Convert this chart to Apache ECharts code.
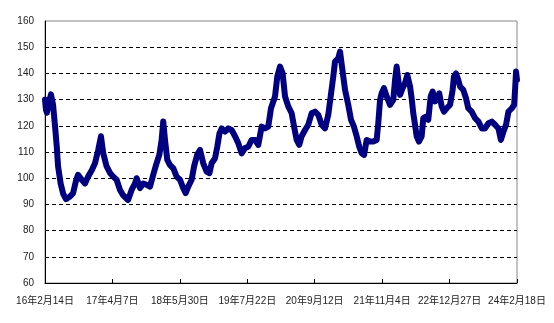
<!DOCTYPE html>
<html><head><meta charset="utf-8">
<script src="https://cdn.jsdelivr.net/npm/echarts@6/dist/echarts.min.js"></script>
<style>html,body{margin:0;padding:0;background:#fff}#c{width:554px;height:323px}</style>
</head><body><div id="c"></div>
<script>
const tickLabels = ['16年2月14日','17年4月7日','18年5月30日','19年7月22日','20年9月12日','21年11月4日','22年12月27日','24年2月18日'];
const tickStepDays = 418;
const days = [0,6,12,25,37,50,62,73,81,97,113,130,155,174,192,205,228,248,267,290,310,330,347,361,382,403,423,444,465,484,515,537,558,568,589,609,630,651,671,688,709,723,733,744,758,775,795,816,837,857,872,888,909,924,944,961,981,1002,1019,1033,1054,1068,1081,1095,1116,1136,1157,1178,1198,1219,1240,1260,1281,1302,1322,1343,1364,1384,1401,1426,1440,1457,1473,1488,1508,1529,1544,1560,1576,1591,1612,1632,1653,1674,1694,1715,1736,1756,1771,1787,1798,1818,1829,1841,1860,1880,1897,1915,1932,1948,1963,1978,1994,2015,2035,2056,2066,2077,2087,2101,2118,2139,2159,2170,2180,2190,2201,2217,2232,2246,2263,2273,2283,2294,2304,2318,2335,2345,2362,2376,2391,2403,2418,2432,2444,2459,2473,2490,2511,2527,2535,2548,2562,2573,2593,2610,2624,2645,2666,2687,2708,2728,2749,2770,2790,2811,2826,2842,2858,2873,2894,2908,2914,2920,2926];
const values = [130,126,125,129,132,128,120,112,104.5,98,94,92,93,94.3,99,101.3,99.4,98,100.6,103,105.7,110.8,116,109.5,104.5,102,100.6,99.4,95.5,93.5,91.7,95.5,98,100,96.2,98,97.5,96.8,101.3,105,109,114.6,121.6,114.6,107,105,103.8,100.6,99.4,96.2,94.3,96.8,99.4,104.5,109,110.8,105.7,102.5,101.9,105.7,107.6,112,117,119,117.8,119,118.4,116,113.4,109.5,111.5,112,114.6,114.6,112.7,119.7,119,119.7,126.7,131.2,138.8,142.6,140,131.2,127.4,124.8,119.7,114.6,112.7,116,118.4,120.4,124.8,125.4,124.2,120.4,119,124.2,131.2,138.8,144.5,145.8,148.3,142.6,133.7,128,122.3,119.7,116,112,109.5,108.9,114.6,114,114,114.6,121,129.9,132.4,134.4,131.2,128,129.9,137.5,142.6,137.5,131.8,134.4,136.3,139.4,135,130.5,124.8,120.4,116,114,116,122.9,123.5,122.3,131.2,133.1,129.3,130.5,132.4,127.4,125.4,126.7,128,133.7,138.8,140,137.5,135,133.7,130.5,126.7,125.4,122.9,121.6,119,119,121,121.6,120.4,119,114.6,117.8,120.4,125.4,126.7,128,133.7,140.7,137.5];
const yTicks = [60,160,10];

const chart = echarts.init(document.getElementById('c'), null, {renderer:'canvas'});
const font = '"Liberation Sans", Arial, "Noto Sans CJK SC", sans-serif';
chart.setOption({
  animation:false,
  grid:{left:45,right:37,top:21,bottom:40,show:true,borderColor:'#888',borderWidth:1,backgroundColor:'transparent'},
  xAxis:{type:'value',min:0,max:tickStepDays*(tickLabels.length-1),interval:tickStepDays,
    axisLine:{show:true,onZero:false,lineStyle:{color:'#000',width:1}},
    axisTick:{show:true,inside:true,length:4,lineStyle:{color:'#000'}},
    splitLine:{show:false},
    axisLabel:{show:true,margin:13,fontSize:10,color:'#222',fontFamily:font,
      showMinLabel:true,showMaxLabel:true,
      formatter:v=>tickLabels[Math.round(v/tickStepDays)]||''}},
  yAxis:{type:'value',min:yTicks[0],max:yTicks[1],interval:yTicks[2],
    axisLine:{show:true,lineStyle:{color:'#000',width:1}},
    axisTick:{show:false},
    splitLine:{show:true,showMinLine:false,showMaxLine:false,lineStyle:{color:'#000',type:[4,3],width:1}},
    axisLabel:{margin:11,fontSize:10,color:'#222',fontFamily:font}},
  series:[{type:'line',data:days.map((d,i)=>[d,values[i]]),showSymbol:false,
    lineStyle:{color:'#000080',width:6,join:'round',cap:'round'},z:3}]
});
</script></body></html>
